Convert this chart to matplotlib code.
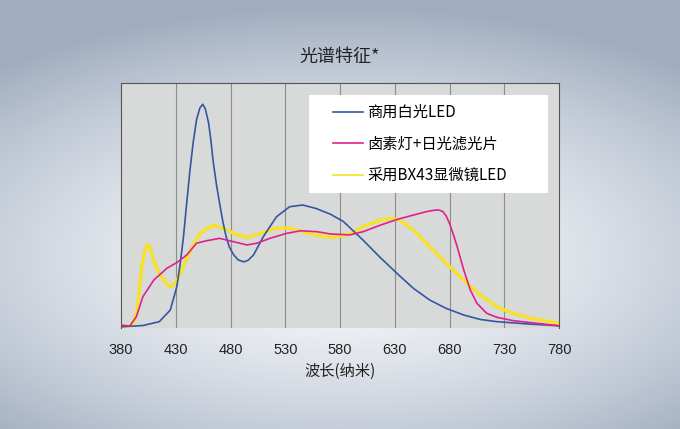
import numpy as np
import matplotlib
matplotlib.use("Agg")
import matplotlib.pyplot as plt
from matplotlib.patches import Rectangle

plt.rcParams['font.family'] = ['Noto Sans CJK SC', 'DejaVu Sans']

title = "光谱特征*"
xlabel = "波长(纳米)"
xticks = [380, 430, 480, 530, 580, 630, 680, 730, 780]

labels = ["商用白光LED", "卤素灯+日光滤光片", "采用BX43显微镜LED"]

blue_wl = [380, 400, 415, 425, 431, 434, 437, 440, 443, 446, 449, 452, 454.6, 457, 460, 462,
           464, 467, 470, 473, 476, 479, 483, 487, 492, 496, 501, 510, 522, 534, 546, 558,
           571, 583, 601, 616, 632, 647, 662, 677, 693, 708, 723, 753, 780]
blue = [0.5, 1, 2.6, 7.3, 16.9, 26, 37, 51, 64.5, 76, 85, 89.8, 91.3, 89.5, 83.7, 77,
        68.6, 59, 51, 43.5, 37.3, 33, 29.8, 27.8, 27, 27.6, 29.8, 37.3, 45.4, 49.5, 50.2, 48.8,
        46.5, 43.5, 35.9, 29.1, 22.3, 16.2, 11.4, 8, 5.3, 3.5, 2.6, 1.6, 0.9]

magenta_wl = [380, 388, 394, 400, 410, 422, 431, 440, 449, 458, 470, 483, 495, 504, 516, 531,
              544, 559, 571, 589, 601, 617, 632, 647, 659, 665, 670, 674, 677, 680, 684, 687,
              693, 699, 705, 714, 723, 738, 754, 780]
magenta = [1.2, 0.8, 4.6, 12.8, 19.6, 24.4, 26.7, 29.8, 34.6, 35.6, 36.6, 35.2, 33.9, 34.6, 36.6, 38.6,
           39.7, 39.3, 38.4, 38, 39.3, 42, 44.3, 46.1, 47.5, 48, 48.2, 47.5, 45.7, 42.7, 37.5, 33.2,
           23.7, 15.5, 10.1, 6, 4.4, 3, 2.2, 0.9]

yellow_wl = [380, 391, 395, 397, 399, 402, 404, 406, 408, 411, 415, 419, 423, 426, 430, 434,
             443, 452, 464, 473, 486, 495, 507, 522, 534, 546, 562, 574, 589, 601, 617, 626,
             635, 647, 662, 677, 693, 708, 723, 738, 754, 780]
yellow = [0.5, 1.2, 8, 16.9, 25, 31.8, 33.9, 33.5, 30.5, 26.4, 22, 19.6, 17.3, 16.9, 18.5, 22.3,
          31.1, 38.6, 42, 40.7, 38, 37, 38.6, 40.7, 40.7, 39.3, 37.6, 37, 38.3, 41.4, 44.1, 44.8,
          44.1, 40, 33.2, 26.4, 19.6, 13.5, 8.7, 6, 4, 1.9]

W, H = 680, 429
fig = plt.figure(figsize=(W / 100, H / 100), dpi=100)

# background gradient
bg = fig.add_axes([0, 0, 1, 1], zorder=-10)
yy, xx = np.mgrid[0:H, 0:W]
d = np.sqrt(((xx - 340) / 520.0) ** 2 + ((yy - 255) / 250.0) ** 2)
t = np.clip(d, 0, 1) ** 1.5
c_center = np.array([0.975, 0.98, 0.988])
c_edge = np.array([0.63, 0.68, 0.75])
img = c_center[None, None, :] * (1 - t[..., None]) + c_edge[None, None, :] * t[..., None]
bg.imshow(img, aspect='auto', extent=[0, 1, 0, 1])
bg.axis('off')

ax = fig.add_axes([121 / W, (H - 328) / H, (559 - 121) / W, (328 - 83) / H])
ax.set_facecolor('#d8d9d9')
ax.set_xlim(380, 780)
ax.set_ylim(0, 100)

for x in xticks[1:-1]:
    ax.axvline(x, color='#8c8c8c', lw=0.8, zorder=1)

l1, = ax.plot(blue_wl, blue, color='#3656a2', lw=1.2, zorder=3, label=labels[0])
l2, = ax.plot(magenta_wl, magenta, color='#e0208e', lw=1.2, zorder=3, label=labels[1])
l3, = ax.plot(yellow_wl, yellow, color='#f7e225', lw=2.4, zorder=2, label=labels[2])

ax.set_xticks(xticks)
ax.set_xticklabels([str(v) for v in xticks], fontsize=10.5, color='#222222',
                   family=['Liberation Sans', 'DejaVu Sans'])
ax.tick_params(axis='x', length=0, pad=11)
ax.set_yticks([])
for s in ['left', 'top', 'right']:
    ax.spines[s].set_color('#555555')
    ax.spines[s].set_linewidth(0.8)
ax.spines['bottom'].set_visible(False)

ax.set_xlabel(xlabel, fontsize=11, color='#222222', labelpad=4)
fig.text(0.5, (H - 57) / H, title, ha='center', va='center', fontsize=13, color='#222222')

# legend box
bx0, bx1 = (309 - 121) / 438, (548 - 121) / 438
by0, by1 = (328 - 193) / 245, (328 - 95) / 245
ax.add_patch(Rectangle((bx0, by0), bx1 - bx0, by1 - by0, transform=ax.transAxes,
                       facecolor='white', edgecolor='none', zorder=5))
leg = ax.legend(handles=[l1, l2, l3], loc='upper left',
                bbox_to_anchor=((333 - 121) / 438, (328 - 104) / 245),
                frameon=False, fontsize=11,
                handlelength=1.95, handletextpad=0.3, labelspacing=0.95,
                borderpad=0, borderaxespad=0)
leg.set_zorder(6)
for h in leg.legend_handles:
    h.set_linewidth(1.2)

fig.savefig('out.png', dpi=100)
